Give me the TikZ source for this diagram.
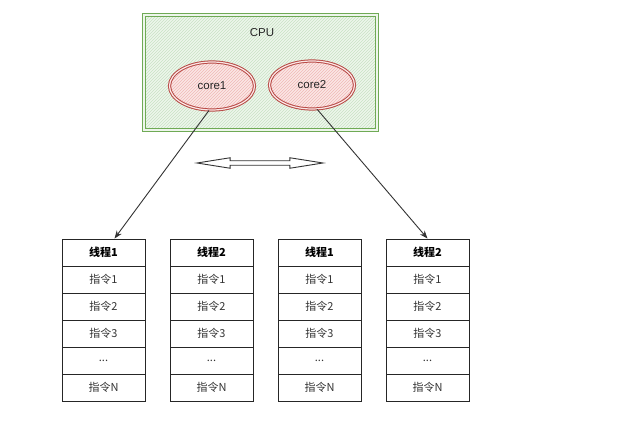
\documentclass[tikz,border=0pt]{standalone}
\usepackage{fontspec}
\setmainfont{Liberation Sans}
\newfontfamily\cjk{Noto Sans CJK SC}
\usetikzlibrary{shapes.geometric,shapes.arrows,patterns,arrows.meta,calc}
\definecolor{gborder}{HTML}{6FAA55}
\definecolor{gfill}{HTML}{EEF6EC}
\definecolor{ghatch}{HTML}{C9E2C4}
\definecolor{rborder}{HTML}{B84A46}
\definecolor{rfill}{HTML}{FBE6E5}
\definecolor{rhatch}{HTML}{EFB9B6}
\definecolor{txt}{HTML}{333333}
\tikzset{
  cell/.style={draw=black!85, line width=0.9pt, minimum width=83pt, minimum height=27pt, inner sep=0pt, font=\cjk\fontsize{11}{13}\selectfont, text=txt},
  head/.style={cell, font=\cjk\bfseries\fontsize{11}{13}\selectfont, text=black},
  core/.style={ellipse, draw=rborder, line width=1pt, double=rfill, double distance=1.2pt, minimum width=85pt, minimum height=48pt, inner sep=0pt,
    preaction={fill=rfill}, preaction={pattern=north east lines, pattern color=rhatch}, font=\fontsize{11.5}{13}\selectfont, text=black!85},
  arr/.style={-{Stealth[length=8pt,width=6pt]}, line width=0.9pt, draw=black!80},
}
\begin{document}
\begin{tikzpicture}[x=1pt,y=-1pt]
\useasboundingbox (0,0) rectangle (619,430);
% CPU box
\node[draw=gborder, line width=1pt, double=gfill, double distance=1.2pt, minimum width=233pt, minimum height=115pt, inner sep=0pt,
  preaction={fill=gfill}, preaction={pattern=north east lines, pattern color=ghatch}] (cpu) at (260.5,72.5) {};
\node[font=\fontsize{11.5}{13}\selectfont, text=black!85] (cpulbl) at (262,33) {CPU};
\node[core] (c1) at (212,86) {core1};
\node[core] (c2) at (312,85) {core2};
% double arrow
\node[double arrow, draw=black!80, line width=0.9pt, fill=white, minimum height=126pt, inner sep=1.8pt,
  double arrow head extend=3pt, double arrow tip angle=18] (da) at (260,163) {};
% stacks
\foreach \i/\x/\t in {1/103.5/线程1, 2/211.5/线程2, 3/319.5/线程1, 4/427.5/线程2}{
  \node[head] (h\i) at (\x,252.5) {\t};
  \node[cell] (a\i) at (\x,279.5) {指令1};
  \node[cell] (b\i) at (\x,306.5) {指令2};
  \node[cell] (d\i) at (\x,333.5) {指令3};
  \node[cell] (e\i) at (\x,360.5) {...};
  \node[cell] (n\i) at (\x,387.5) {指令N};
}
\draw[arr] (c1.-97) -- ($(h1.north)+(11,0)$);
\draw[arr] (c2.-78) -- (h4.north);
\end{tikzpicture}
\end{document}
